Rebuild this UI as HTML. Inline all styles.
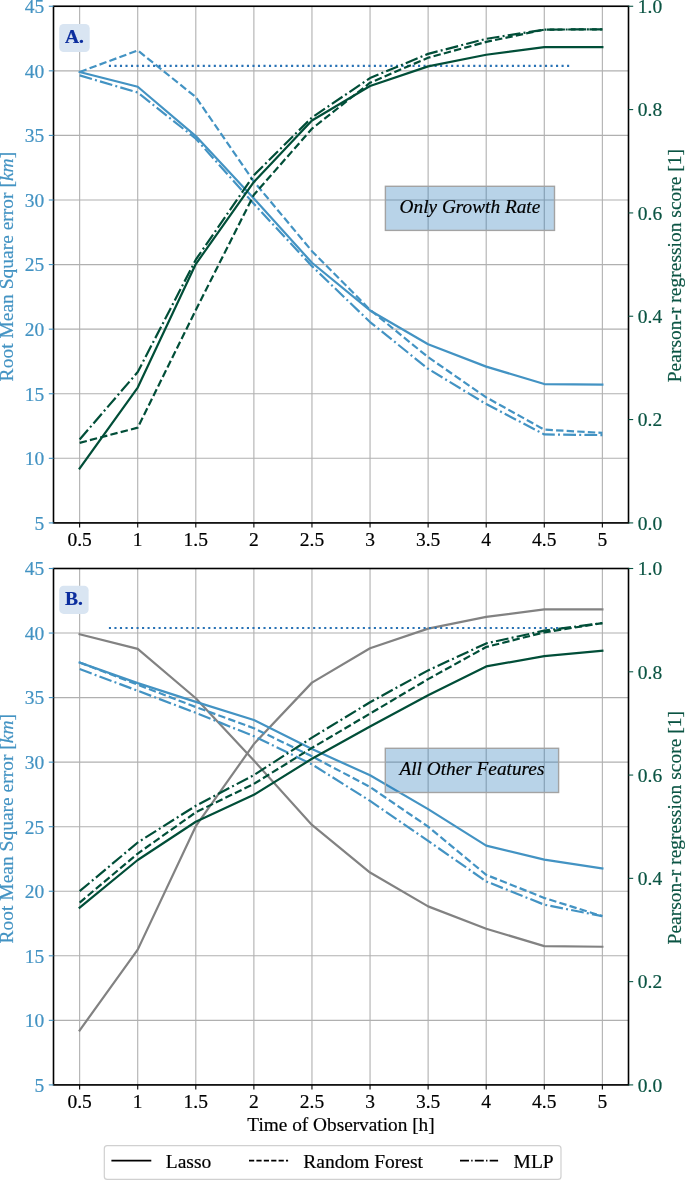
<!DOCTYPE html>
<html><head><meta charset="utf-8"><style>
html,body{margin:0;padding:0;background:#fff;}
svg{display:block;font-family:"Liberation Serif",serif;will-change:transform;}
</style></head><body>
<svg width="685" height="1180" viewBox="0 0 685 1180">
<rect width="685" height="1180" fill="#fff"/>
<line x1="79.64" y1="6.26" x2="79.64" y2="522.9" stroke="#b0b0b0" stroke-width="1.1"/>
<line x1="137.72" y1="6.26" x2="137.72" y2="522.9" stroke="#b0b0b0" stroke-width="1.1"/>
<line x1="195.80" y1="6.26" x2="195.80" y2="522.9" stroke="#b0b0b0" stroke-width="1.1"/>
<line x1="253.88" y1="6.26" x2="253.88" y2="522.9" stroke="#b0b0b0" stroke-width="1.1"/>
<line x1="311.96" y1="6.26" x2="311.96" y2="522.9" stroke="#b0b0b0" stroke-width="1.1"/>
<line x1="370.04" y1="6.26" x2="370.04" y2="522.9" stroke="#b0b0b0" stroke-width="1.1"/>
<line x1="428.12" y1="6.26" x2="428.12" y2="522.9" stroke="#b0b0b0" stroke-width="1.1"/>
<line x1="486.20" y1="6.26" x2="486.20" y2="522.9" stroke="#b0b0b0" stroke-width="1.1"/>
<line x1="544.28" y1="6.26" x2="544.28" y2="522.9" stroke="#b0b0b0" stroke-width="1.1"/>
<line x1="602.36" y1="6.26" x2="602.36" y2="522.9" stroke="#b0b0b0" stroke-width="1.1"/>
<line x1="53.5" y1="522.90" x2="628.5" y2="522.90" stroke="#b0b0b0" stroke-width="1.1"/>
<line x1="53.5" y1="458.32" x2="628.5" y2="458.32" stroke="#b0b0b0" stroke-width="1.1"/>
<line x1="53.5" y1="393.74" x2="628.5" y2="393.74" stroke="#b0b0b0" stroke-width="1.1"/>
<line x1="53.5" y1="329.16" x2="628.5" y2="329.16" stroke="#b0b0b0" stroke-width="1.1"/>
<line x1="53.5" y1="264.58" x2="628.5" y2="264.58" stroke="#b0b0b0" stroke-width="1.1"/>
<line x1="53.5" y1="200.00" x2="628.5" y2="200.00" stroke="#b0b0b0" stroke-width="1.1"/>
<line x1="53.5" y1="135.42" x2="628.5" y2="135.42" stroke="#b0b0b0" stroke-width="1.1"/>
<line x1="53.5" y1="70.84" x2="628.5" y2="70.84" stroke="#b0b0b0" stroke-width="1.1"/>
<line x1="53.5" y1="6.26" x2="628.5" y2="6.26" stroke="#b0b0b0" stroke-width="1.1"/>
<polyline points="79.64,72.00 137.72,86.73 195.80,136.07 253.88,198.45 311.96,262.77 370.04,310.43 428.12,344.27 486.20,366.62 544.28,384.05 602.36,384.70" fill="none" stroke="#4393c3" stroke-width="2.2" stroke-linejoin="round" stroke-linecap="square"/>
<polyline points="79.64,72.00 137.72,50.43 195.80,97.06 253.88,181.53 311.96,251.15 370.04,309.79 428.12,357.19 486.20,397.36 544.28,429.65 602.36,432.88" fill="none" stroke="#4393c3" stroke-width="2.2" stroke-dasharray="7.4 3.2" stroke-linejoin="round" stroke-linecap="butt"/>
<polyline points="79.64,75.36 137.72,92.54 195.80,138.65 253.88,203.87 311.96,266.13 370.04,322.06 428.12,368.81 486.20,404.07 544.28,434.43 602.36,435.07" fill="none" stroke="#4393c3" stroke-width="2.2" stroke-dasharray="12.8 3.2 2 3.2" stroke-linejoin="round" stroke-linecap="butt"/>
<polyline points="108.90,65.93 570.80,65.93" fill="none" stroke="#2872b5" stroke-width="2.2" stroke-dasharray="2.1 3.42" stroke-linejoin="round" stroke-linecap="butt"/>
<polyline points="79.64,468.39 137.72,387.59 195.80,264.06 253.88,181.92 311.96,120.44 370.04,85.98 428.12,66.40 486.20,54.72 544.28,47.13 602.36,47.07" fill="none" stroke="#014e38" stroke-width="2.2" stroke-linejoin="round" stroke-linecap="square"/>
<polyline points="79.64,442.82 137.72,427.68 195.80,310.04 253.88,194.83 311.96,128.70 370.04,82.72 428.12,57.72 486.20,41.91 544.28,29.61 602.36,29.30" fill="none" stroke="#014e38" stroke-width="2.2" stroke-dasharray="7.4 3.2" stroke-linejoin="round" stroke-linecap="butt"/>
<polyline points="79.64,439.51 137.72,372.04 195.80,259.67 253.88,175.20 311.96,117.49 370.04,78.07 428.12,53.89 486.20,38.81 544.28,29.61 602.36,29.30" fill="none" stroke="#014e38" stroke-width="2.2" stroke-dasharray="12.8 3.2 2 3.2" stroke-linejoin="round" stroke-linecap="butt"/>
<rect x="385.4" y="186.3" width="169.10000000000002" height="44.099999999999994" fill="rgba(40,120,185,0.33)" stroke="#a3a3a3" stroke-width="1.4"/>
<text x="469.95" y="213.3" text-anchor="middle" font-style="italic" font-size="19.3" fill="#000" stroke="#000" stroke-width="0.2">Only Growth Rate</text>
<rect x="59.2" y="24.0" width="30.5" height="28.1" rx="4.5" fill="#d9e5f2"/>
<text x="74.45" y="42.8" text-anchor="middle" font-weight="bold" font-size="19.5" fill="#0b2d9e" stroke="#0b2d9e" stroke-width="0.2">A.</text>
<rect x="53.5" y="6.26" width="575.0" height="516.64" fill="none" stroke="#000" stroke-width="1.6"/>
<line x1="79.64" y1="522.9" x2="79.64" y2="527.6" stroke="#000" stroke-width="1.1"/>
<text x="79.64" y="546.1999999999999" text-anchor="middle" font-size="19.5" fill="#000" stroke="#000" stroke-width="0.2">0.5</text>
<line x1="137.72" y1="522.9" x2="137.72" y2="527.6" stroke="#000" stroke-width="1.1"/>
<text x="137.72" y="546.1999999999999" text-anchor="middle" font-size="19.5" fill="#000" stroke="#000" stroke-width="0.2">1</text>
<line x1="195.80" y1="522.9" x2="195.80" y2="527.6" stroke="#000" stroke-width="1.1"/>
<text x="195.80" y="546.1999999999999" text-anchor="middle" font-size="19.5" fill="#000" stroke="#000" stroke-width="0.2">1.5</text>
<line x1="253.88" y1="522.9" x2="253.88" y2="527.6" stroke="#000" stroke-width="1.1"/>
<text x="253.88" y="546.1999999999999" text-anchor="middle" font-size="19.5" fill="#000" stroke="#000" stroke-width="0.2">2</text>
<line x1="311.96" y1="522.9" x2="311.96" y2="527.6" stroke="#000" stroke-width="1.1"/>
<text x="311.96" y="546.1999999999999" text-anchor="middle" font-size="19.5" fill="#000" stroke="#000" stroke-width="0.2">2.5</text>
<line x1="370.04" y1="522.9" x2="370.04" y2="527.6" stroke="#000" stroke-width="1.1"/>
<text x="370.04" y="546.1999999999999" text-anchor="middle" font-size="19.5" fill="#000" stroke="#000" stroke-width="0.2">3</text>
<line x1="428.12" y1="522.9" x2="428.12" y2="527.6" stroke="#000" stroke-width="1.1"/>
<text x="428.12" y="546.1999999999999" text-anchor="middle" font-size="19.5" fill="#000" stroke="#000" stroke-width="0.2">3.5</text>
<line x1="486.20" y1="522.9" x2="486.20" y2="527.6" stroke="#000" stroke-width="1.1"/>
<text x="486.20" y="546.1999999999999" text-anchor="middle" font-size="19.5" fill="#000" stroke="#000" stroke-width="0.2">4</text>
<line x1="544.28" y1="522.9" x2="544.28" y2="527.6" stroke="#000" stroke-width="1.1"/>
<text x="544.28" y="546.1999999999999" text-anchor="middle" font-size="19.5" fill="#000" stroke="#000" stroke-width="0.2">4.5</text>
<line x1="602.36" y1="522.9" x2="602.36" y2="527.6" stroke="#000" stroke-width="1.1"/>
<text x="602.36" y="546.1999999999999" text-anchor="middle" font-size="19.5" fill="#000" stroke="#000" stroke-width="0.2">5</text>
<line x1="48.8" y1="522.90" x2="53.5" y2="522.90" stroke="#4393c3" stroke-width="1.1"/>
<text x="44.3" y="529.70" text-anchor="end" font-size="19.5" fill="#4393c3" stroke="#4393c3" stroke-width="0.2">5</text>
<line x1="48.8" y1="458.32" x2="53.5" y2="458.32" stroke="#4393c3" stroke-width="1.1"/>
<text x="44.3" y="465.12" text-anchor="end" font-size="19.5" fill="#4393c3" stroke="#4393c3" stroke-width="0.2">10</text>
<line x1="48.8" y1="393.74" x2="53.5" y2="393.74" stroke="#4393c3" stroke-width="1.1"/>
<text x="44.3" y="400.54" text-anchor="end" font-size="19.5" fill="#4393c3" stroke="#4393c3" stroke-width="0.2">15</text>
<line x1="48.8" y1="329.16" x2="53.5" y2="329.16" stroke="#4393c3" stroke-width="1.1"/>
<text x="44.3" y="335.96" text-anchor="end" font-size="19.5" fill="#4393c3" stroke="#4393c3" stroke-width="0.2">20</text>
<line x1="48.8" y1="264.58" x2="53.5" y2="264.58" stroke="#4393c3" stroke-width="1.1"/>
<text x="44.3" y="271.38" text-anchor="end" font-size="19.5" fill="#4393c3" stroke="#4393c3" stroke-width="0.2">25</text>
<line x1="48.8" y1="200.00" x2="53.5" y2="200.00" stroke="#4393c3" stroke-width="1.1"/>
<text x="44.3" y="206.80" text-anchor="end" font-size="19.5" fill="#4393c3" stroke="#4393c3" stroke-width="0.2">30</text>
<line x1="48.8" y1="135.42" x2="53.5" y2="135.42" stroke="#4393c3" stroke-width="1.1"/>
<text x="44.3" y="142.22" text-anchor="end" font-size="19.5" fill="#4393c3" stroke="#4393c3" stroke-width="0.2">35</text>
<line x1="48.8" y1="70.84" x2="53.5" y2="70.84" stroke="#4393c3" stroke-width="1.1"/>
<text x="44.3" y="77.64" text-anchor="end" font-size="19.5" fill="#4393c3" stroke="#4393c3" stroke-width="0.2">40</text>
<line x1="48.8" y1="6.26" x2="53.5" y2="6.26" stroke="#4393c3" stroke-width="1.1"/>
<text x="44.3" y="13.06" text-anchor="end" font-size="19.5" fill="#4393c3" stroke="#4393c3" stroke-width="0.2">45</text>
<line x1="628.5" y1="522.90" x2="633.2" y2="522.90" stroke="#0b5443" stroke-width="1.1"/>
<text x="637.8" y="529.70" font-size="19.5" fill="#0b5443" stroke="#0b5443" stroke-width="0.2">0.0</text>
<line x1="628.5" y1="419.57" x2="633.2" y2="419.57" stroke="#0b5443" stroke-width="1.1"/>
<text x="637.8" y="426.37" font-size="19.5" fill="#0b5443" stroke="#0b5443" stroke-width="0.2">0.2</text>
<line x1="628.5" y1="316.24" x2="633.2" y2="316.24" stroke="#0b5443" stroke-width="1.1"/>
<text x="637.8" y="323.04" font-size="19.5" fill="#0b5443" stroke="#0b5443" stroke-width="0.2">0.4</text>
<line x1="628.5" y1="212.92" x2="633.2" y2="212.92" stroke="#0b5443" stroke-width="1.1"/>
<text x="637.8" y="219.72" font-size="19.5" fill="#0b5443" stroke="#0b5443" stroke-width="0.2">0.6</text>
<line x1="628.5" y1="109.59" x2="633.2" y2="109.59" stroke="#0b5443" stroke-width="1.1"/>
<text x="637.8" y="116.39" font-size="19.5" fill="#0b5443" stroke="#0b5443" stroke-width="0.2">0.8</text>
<line x1="628.5" y1="6.26" x2="633.2" y2="6.26" stroke="#0b5443" stroke-width="1.1"/>
<text x="637.8" y="13.06" font-size="19.5" fill="#0b5443" stroke="#0b5443" stroke-width="0.2">1.0</text>
<text transform="translate(13.3,266.58) rotate(-90)" text-anchor="middle" font-size="19.5" fill="#4393c3" stroke="#4393c3" stroke-width="0.2">Root Mean Square error [<tspan font-style="italic">km</tspan>]</text>
<text transform="translate(681,265.58) rotate(-90)" text-anchor="middle" font-size="19.5" fill="#0b5443" stroke="#0b5443" stroke-width="0.2">Pearson-r regression score [1]</text>
<line x1="79.64" y1="568.5" x2="79.64" y2="1084.9" stroke="#b0b0b0" stroke-width="1.1"/>
<line x1="137.72" y1="568.5" x2="137.72" y2="1084.9" stroke="#b0b0b0" stroke-width="1.1"/>
<line x1="195.80" y1="568.5" x2="195.80" y2="1084.9" stroke="#b0b0b0" stroke-width="1.1"/>
<line x1="253.88" y1="568.5" x2="253.88" y2="1084.9" stroke="#b0b0b0" stroke-width="1.1"/>
<line x1="311.96" y1="568.5" x2="311.96" y2="1084.9" stroke="#b0b0b0" stroke-width="1.1"/>
<line x1="370.04" y1="568.5" x2="370.04" y2="1084.9" stroke="#b0b0b0" stroke-width="1.1"/>
<line x1="428.12" y1="568.5" x2="428.12" y2="1084.9" stroke="#b0b0b0" stroke-width="1.1"/>
<line x1="486.20" y1="568.5" x2="486.20" y2="1084.9" stroke="#b0b0b0" stroke-width="1.1"/>
<line x1="544.28" y1="568.5" x2="544.28" y2="1084.9" stroke="#b0b0b0" stroke-width="1.1"/>
<line x1="602.36" y1="568.5" x2="602.36" y2="1084.9" stroke="#b0b0b0" stroke-width="1.1"/>
<line x1="53.5" y1="1084.90" x2="628.5" y2="1084.90" stroke="#b0b0b0" stroke-width="1.1"/>
<line x1="53.5" y1="1020.35" x2="628.5" y2="1020.35" stroke="#b0b0b0" stroke-width="1.1"/>
<line x1="53.5" y1="955.80" x2="628.5" y2="955.80" stroke="#b0b0b0" stroke-width="1.1"/>
<line x1="53.5" y1="891.25" x2="628.5" y2="891.25" stroke="#b0b0b0" stroke-width="1.1"/>
<line x1="53.5" y1="826.70" x2="628.5" y2="826.70" stroke="#b0b0b0" stroke-width="1.1"/>
<line x1="53.5" y1="762.15" x2="628.5" y2="762.15" stroke="#b0b0b0" stroke-width="1.1"/>
<line x1="53.5" y1="697.60" x2="628.5" y2="697.60" stroke="#b0b0b0" stroke-width="1.1"/>
<line x1="53.5" y1="633.05" x2="628.5" y2="633.05" stroke="#b0b0b0" stroke-width="1.1"/>
<line x1="53.5" y1="568.50" x2="628.5" y2="568.50" stroke="#b0b0b0" stroke-width="1.1"/>
<polyline points="79.64,634.21 137.72,648.93 195.80,698.25 253.88,760.60 311.96,824.89 370.04,872.53 428.12,906.35 486.20,928.69 544.28,946.12 602.36,946.76" fill="none" stroke="#828282" stroke-width="2.2" stroke-linejoin="round" stroke-linecap="square"/>
<polyline points="79.64,1030.42 137.72,949.65 195.80,826.18 253.88,744.08 311.96,682.62 370.04,648.18 428.12,628.61 486.20,616.94 544.28,609.35 602.36,609.30" fill="none" stroke="#828282" stroke-width="2.2" stroke-linejoin="round" stroke-linecap="square"/>
<polyline points="79.64,662.48 137.72,683.14 195.80,701.86 253.88,720.06 311.96,748.98 370.04,775.32 428.12,809.14 486.20,845.68 544.28,859.62 602.36,868.40" fill="none" stroke="#4393c3" stroke-width="2.2" stroke-linejoin="round" stroke-linecap="square"/>
<polyline points="79.64,662.48 137.72,684.69 195.80,707.02 253.88,728.20 311.96,756.34 370.04,786.94 428.12,826.70 486.20,874.85 544.28,897.96 602.36,916.17" fill="none" stroke="#4393c3" stroke-width="2.2" stroke-dasharray="7.4 3.2" stroke-linejoin="round" stroke-linecap="butt"/>
<polyline points="79.64,669.07 137.72,690.76 195.80,712.83 253.88,736.20 311.96,764.34 370.04,800.88 428.12,840.90 486.20,881.44 544.28,904.68 602.36,916.17" fill="none" stroke="#4393c3" stroke-width="2.2" stroke-dasharray="12.8 3.2 2 3.2" stroke-linejoin="round" stroke-linecap="butt"/>
<polyline points="108.90,628.02 570.80,628.02" fill="none" stroke="#2872b5" stroke-width="2.2" stroke-dasharray="2.1 3.42" stroke-linejoin="round" stroke-linecap="butt"/>
<polyline points="79.64,907.62 137.72,860.01 195.80,821.79 253.88,794.79 311.96,758.79 370.04,726.42 428.12,695.17 486.20,666.41 544.28,656.18 602.36,650.81" fill="none" stroke="#014e38" stroke-width="2.2" stroke-linejoin="round" stroke-linecap="square"/>
<polyline points="79.64,902.61 137.72,853.60 195.80,812.29 253.88,783.89 311.96,747.90 370.04,713.61 428.12,679.11 486.20,646.99 544.28,632.38 602.36,623.08" fill="none" stroke="#014e38" stroke-width="2.2" stroke-dasharray="7.4 3.2" stroke-linejoin="round" stroke-linecap="butt"/>
<polyline points="79.64,891.20 137.72,842.50 195.80,805.79 253.88,775.06 311.96,737.67 370.04,702.25 428.12,670.39 486.20,643.38 544.28,630.67 602.36,623.08" fill="none" stroke="#014e38" stroke-width="2.2" stroke-dasharray="12.8 3.2 2 3.2" stroke-linejoin="round" stroke-linecap="butt"/>
<rect x="385.3" y="748.3" width="173.3" height="44.200000000000045" fill="rgba(40,120,185,0.33)" stroke="#a3a3a3" stroke-width="1.4"/>
<text x="471.95000000000005" y="774.9" text-anchor="middle" font-style="italic" font-size="19.3" fill="#000" stroke="#000" stroke-width="0.2">All Other Features</text>
<rect x="59.2" y="585.8" width="29.39999999999999" height="28.100000000000023" rx="4.5" fill="#d9e5f2"/>
<text x="73.9" y="604.8" text-anchor="middle" font-weight="bold" font-size="19.5" fill="#0b2d9e" stroke="#0b2d9e" stroke-width="0.2">B.</text>
<rect x="53.5" y="568.5" width="575.0" height="516.4000000000001" fill="none" stroke="#000" stroke-width="1.6"/>
<line x1="79.64" y1="1084.9" x2="79.64" y2="1089.6000000000001" stroke="#000" stroke-width="1.1"/>
<text x="79.64" y="1107.8000000000002" text-anchor="middle" font-size="19.5" fill="#000" stroke="#000" stroke-width="0.2">0.5</text>
<line x1="137.72" y1="1084.9" x2="137.72" y2="1089.6000000000001" stroke="#000" stroke-width="1.1"/>
<text x="137.72" y="1107.8000000000002" text-anchor="middle" font-size="19.5" fill="#000" stroke="#000" stroke-width="0.2">1</text>
<line x1="195.80" y1="1084.9" x2="195.80" y2="1089.6000000000001" stroke="#000" stroke-width="1.1"/>
<text x="195.80" y="1107.8000000000002" text-anchor="middle" font-size="19.5" fill="#000" stroke="#000" stroke-width="0.2">1.5</text>
<line x1="253.88" y1="1084.9" x2="253.88" y2="1089.6000000000001" stroke="#000" stroke-width="1.1"/>
<text x="253.88" y="1107.8000000000002" text-anchor="middle" font-size="19.5" fill="#000" stroke="#000" stroke-width="0.2">2</text>
<line x1="311.96" y1="1084.9" x2="311.96" y2="1089.6000000000001" stroke="#000" stroke-width="1.1"/>
<text x="311.96" y="1107.8000000000002" text-anchor="middle" font-size="19.5" fill="#000" stroke="#000" stroke-width="0.2">2.5</text>
<line x1="370.04" y1="1084.9" x2="370.04" y2="1089.6000000000001" stroke="#000" stroke-width="1.1"/>
<text x="370.04" y="1107.8000000000002" text-anchor="middle" font-size="19.5" fill="#000" stroke="#000" stroke-width="0.2">3</text>
<line x1="428.12" y1="1084.9" x2="428.12" y2="1089.6000000000001" stroke="#000" stroke-width="1.1"/>
<text x="428.12" y="1107.8000000000002" text-anchor="middle" font-size="19.5" fill="#000" stroke="#000" stroke-width="0.2">3.5</text>
<line x1="486.20" y1="1084.9" x2="486.20" y2="1089.6000000000001" stroke="#000" stroke-width="1.1"/>
<text x="486.20" y="1107.8000000000002" text-anchor="middle" font-size="19.5" fill="#000" stroke="#000" stroke-width="0.2">4</text>
<line x1="544.28" y1="1084.9" x2="544.28" y2="1089.6000000000001" stroke="#000" stroke-width="1.1"/>
<text x="544.28" y="1107.8000000000002" text-anchor="middle" font-size="19.5" fill="#000" stroke="#000" stroke-width="0.2">4.5</text>
<line x1="602.36" y1="1084.9" x2="602.36" y2="1089.6000000000001" stroke="#000" stroke-width="1.1"/>
<text x="602.36" y="1107.8000000000002" text-anchor="middle" font-size="19.5" fill="#000" stroke="#000" stroke-width="0.2">5</text>
<line x1="48.8" y1="1084.90" x2="53.5" y2="1084.90" stroke="#4393c3" stroke-width="1.1"/>
<text x="44.3" y="1091.70" text-anchor="end" font-size="19.5" fill="#4393c3" stroke="#4393c3" stroke-width="0.2">5</text>
<line x1="48.8" y1="1020.35" x2="53.5" y2="1020.35" stroke="#4393c3" stroke-width="1.1"/>
<text x="44.3" y="1027.15" text-anchor="end" font-size="19.5" fill="#4393c3" stroke="#4393c3" stroke-width="0.2">10</text>
<line x1="48.8" y1="955.80" x2="53.5" y2="955.80" stroke="#4393c3" stroke-width="1.1"/>
<text x="44.3" y="962.60" text-anchor="end" font-size="19.5" fill="#4393c3" stroke="#4393c3" stroke-width="0.2">15</text>
<line x1="48.8" y1="891.25" x2="53.5" y2="891.25" stroke="#4393c3" stroke-width="1.1"/>
<text x="44.3" y="898.05" text-anchor="end" font-size="19.5" fill="#4393c3" stroke="#4393c3" stroke-width="0.2">20</text>
<line x1="48.8" y1="826.70" x2="53.5" y2="826.70" stroke="#4393c3" stroke-width="1.1"/>
<text x="44.3" y="833.50" text-anchor="end" font-size="19.5" fill="#4393c3" stroke="#4393c3" stroke-width="0.2">25</text>
<line x1="48.8" y1="762.15" x2="53.5" y2="762.15" stroke="#4393c3" stroke-width="1.1"/>
<text x="44.3" y="768.95" text-anchor="end" font-size="19.5" fill="#4393c3" stroke="#4393c3" stroke-width="0.2">30</text>
<line x1="48.8" y1="697.60" x2="53.5" y2="697.60" stroke="#4393c3" stroke-width="1.1"/>
<text x="44.3" y="704.40" text-anchor="end" font-size="19.5" fill="#4393c3" stroke="#4393c3" stroke-width="0.2">35</text>
<line x1="48.8" y1="633.05" x2="53.5" y2="633.05" stroke="#4393c3" stroke-width="1.1"/>
<text x="44.3" y="639.85" text-anchor="end" font-size="19.5" fill="#4393c3" stroke="#4393c3" stroke-width="0.2">40</text>
<line x1="48.8" y1="568.50" x2="53.5" y2="568.50" stroke="#4393c3" stroke-width="1.1"/>
<text x="44.3" y="575.30" text-anchor="end" font-size="19.5" fill="#4393c3" stroke="#4393c3" stroke-width="0.2">45</text>
<line x1="628.5" y1="1084.90" x2="633.2" y2="1084.90" stroke="#0b5443" stroke-width="1.1"/>
<text x="637.8" y="1091.70" font-size="19.5" fill="#0b5443" stroke="#0b5443" stroke-width="0.2">0.0</text>
<line x1="628.5" y1="981.62" x2="633.2" y2="981.62" stroke="#0b5443" stroke-width="1.1"/>
<text x="637.8" y="988.42" font-size="19.5" fill="#0b5443" stroke="#0b5443" stroke-width="0.2">0.2</text>
<line x1="628.5" y1="878.34" x2="633.2" y2="878.34" stroke="#0b5443" stroke-width="1.1"/>
<text x="637.8" y="885.14" font-size="19.5" fill="#0b5443" stroke="#0b5443" stroke-width="0.2">0.4</text>
<line x1="628.5" y1="775.06" x2="633.2" y2="775.06" stroke="#0b5443" stroke-width="1.1"/>
<text x="637.8" y="781.86" font-size="19.5" fill="#0b5443" stroke="#0b5443" stroke-width="0.2">0.6</text>
<line x1="628.5" y1="671.78" x2="633.2" y2="671.78" stroke="#0b5443" stroke-width="1.1"/>
<text x="637.8" y="678.58" font-size="19.5" fill="#0b5443" stroke="#0b5443" stroke-width="0.2">0.8</text>
<line x1="628.5" y1="568.50" x2="633.2" y2="568.50" stroke="#0b5443" stroke-width="1.1"/>
<text x="637.8" y="575.30" font-size="19.5" fill="#0b5443" stroke="#0b5443" stroke-width="0.2">1.0</text>
<text transform="translate(13.3,828.70) rotate(-90)" text-anchor="middle" font-size="19.5" fill="#4393c3" stroke="#4393c3" stroke-width="0.2">Root Mean Square error [<tspan font-style="italic">km</tspan>]</text>
<text transform="translate(681,827.70) rotate(-90)" text-anchor="middle" font-size="19.5" fill="#0b5443" stroke="#0b5443" stroke-width="0.2">Pearson-r regression score [1]</text>
<text x="341.00" y="1130.9" text-anchor="middle" font-size="19.3" fill="#000" stroke="#000" stroke-width="0.2">Time of Observation [h]</text>
<rect x="104.3" y="1145.7" width="456.7" height="33.700000000000045" rx="3" fill="#fff" stroke="#d0d0d0" stroke-width="1.2"/>
<line x1="111.4" y1="1160.6" x2="151.3" y2="1160.6" stroke="#000" stroke-width="1.6"/>
<text x="165.8" y="1167.6" font-size="19.5" fill="#000" stroke="#000" stroke-width="0.2">Lasso</text>
<line x1="249.0" y1="1160.6" x2="288.1" y2="1160.6" stroke="#000" stroke-width="1.6" stroke-dasharray="5.2 2.2"/>
<text x="303.3" y="1167.6" font-size="19.5" fill="#000" stroke="#000" stroke-width="0.2">Random Forest</text>
<line x1="460.0" y1="1160.6" x2="498.1" y2="1160.6" stroke="#000" stroke-width="1.6" stroke-dasharray="8.96 2.24 1.4 2.24"/>
<text x="513.6" y="1167.6" font-size="19.5" fill="#000" stroke="#000" stroke-width="0.2">MLP</text>
</svg>
</body></html>
